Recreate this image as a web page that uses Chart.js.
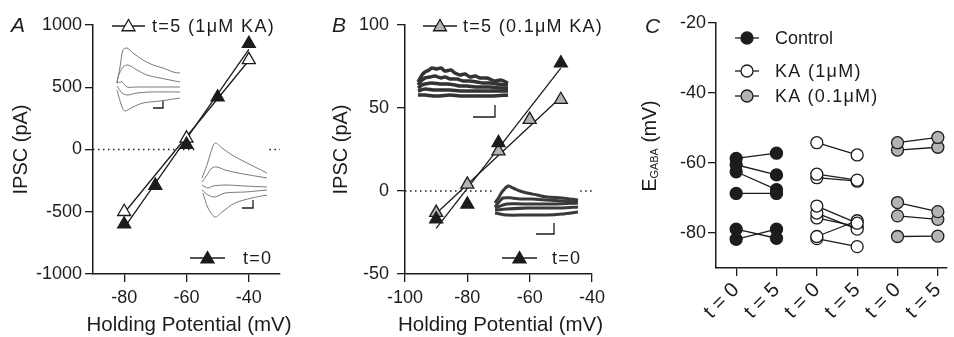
<!DOCTYPE html>
<html><head><meta charset="utf-8">
<script src="https://cdn.jsdelivr.net/npm/chart.js@4.4.1/dist/chart.umd.min.js"></script>
<style>
html,body{margin:0;padding:0;background:#fff;}
#wrap{position:relative;width:954px;height:337px;overflow:hidden;background:#fff;}
canvas{position:absolute;}
</style></head><body>
<div id="wrap">
<canvas id="cA" width="320" height="337" style="left:0;top:0"></canvas>
<canvas id="cB" width="320" height="337" style="left:320px;top:0"></canvas>
<canvas id="cC" width="314" height="337" style="left:640px;top:0"></canvas>
<canvas id="iA1" width="72" height="70" style="left:112px;top:44px"></canvas>
<canvas id="iA2" width="72" height="82" style="left:198px;top:138px"></canvas>
<canvas id="iB1" width="96" height="58" style="left:415px;top:62px"></canvas>
<canvas id="iB2" width="90" height="58" style="left:492px;top:180px"></canvas>
</div>
<script>
// ---------------- DATA ----------------
// Panel A: IPSC (pA) vs holding potential (mV), 1 µM KA
const vA_t0 = [-80, -70, -60, -50, -40];
const ipscA_t0 = [-600, -290, 40, 420, 850];
const vA_t5 = [-80, -60, -40];
const ipscA_t5 = [-500, 90, 720];
const fitA_v = [-80, -40];
const fitA_t0 = [-630, 805];
const fitA_t5 = [-510, 715];
const ticksA_x = [-80, -60, -40];
const ticksA_y = [-1000, -500, 0, 500, 1000];

// Panel B: 0.1 µM KA
const vB_t0 = [-90, -80, -70, -50];
const ipscB_t0 = [-17, -8, 29, 77];
const vB_t5 = [-90, -80, -70, -60, -50];
const ipscB_t5 = [-13, 4, 24, 43, 55];
const fitB_v = [-90, -50];
const fitB_t0 = [-22.5, 74];
const fitB_t5 = [-13.5, 56.5];
const ticksB_x = [-100, -80, -60, -40];
const ticksB_y = [-50, 0, 50, 100];

// Panel C: E_GABA (mV) per cell, t=0 vs t=5
const groupsC = ['Control', 'KA (1\u03BCM)', 'KA (0.1\u03BCM)'];
const labelsC = ['t = 0', 't = 5', 't = 0', 't = 5', 't = 0', 't = 5'];
const ctrl_t0 = [-58.7, -60.5, -62.5, -68.7, -78.9, -81.8];
const ctrl_t5 = [-57.2, -63.4, -67.6, -68.7, -81.5, -78.9];
const ka1_t0 = [-54.2, -63.2, -64.2, -72.3, -74.3, -75.7, -81.0, -81.6];
const ka1_t5 = [-57.7, -64.9, -65.2, -77.2, -78.9, -78.2, -76.5, -83.9];
const ka01_t0 = [-54.2, -56.3, -71.3, -75.1, -81.0];
const ka01_t5 = [-52.7, -55.5, -73.9, -76.1, -80.9];
const ticksC_y = [-80, -60, -40, -20];

// Inset traces (time, current in arbitrary units)
const tracesA1 = [
  [[5,31],[8,47],[11,64],[15,66],[21,61],[31,54],[41,49],[51,46],[61,42],[68,41]],
  [[5,31],[6,37],[11,47],[16,49],[25,44],[35,39],[48,36],[68,32]],
  [[5,31],[10,32],[15,27],[25,27],[48,27],[68,27]],
  [[5,28],[10,21],[15,19],[25,21],[38,22],[68,22]],
  [[5,24],[10,7],[13,3],[21,7],[31,11],[48,13],[68,16]]
];
const barA1 = [[41,6],[51,6],[51,14]];
const tracesA2 = [
  [[4,42],[9,55],[12,65],[17,77],[24,72],[34,65],[47,58],[69,47]],
  [[4,38],[9,45],[14,52],[19,53],[27,50],[40,47],[69,42]],
  [[4,35],[10,32],[15,34],[27,35],[47,34],[69,33]],
  [[4,30],[10,25],[17,23],[27,27],[47,28],[69,30]],
  [[5,27],[10,12],[17,3],[24,8],[37,17],[54,22],[69,25]]
];
const barA2 = [[44,12],[55,12],[55,20]];
const tracesB1 = [
  [[3,38],[7,45],[10,48],[14,50],[17,52],[22,51],[26,52],[30,49],[36,50],[40,47],[45,45],[50,46],[55,43],[60,44],[65,42],[72,42],[80,39],[86,40],[93,37]],
  [[3,35],[7,40],[10,42],[15,43],[20,44],[26,42],[30,43],[35,41],[42,41],[48,39],[55,39],[62,38],[68,37],[75,37],[82,36],[93,35]],
  [[3,32],[7,35],[10,36],[17,37],[25,36],[32,36],[40,35],[45,34],[52,34],[60,33],[65,33],[75,33],[85,32],[93,32]],
  [[3,29],[10,31],[18,30],[25,30],[35,30],[45,29],[55,29],[65,29],[78,29],[93,29]],
  [[3,25],[10,25],[18,24],[25,24],[35,25],[45,24],[55,24],[65,24],[78,24],[93,25]]
];
const barB1 = [[58,3],[80,3],[80,15]];
const tracesB2 = [
  [[3,35],[7,41],[10,46],[16,52],[21,50],[28,47],[35,45],[45,43],[55,41],[70,40],[86,38]],
  [[3,31],[7,36],[11,40],[20,40],[28,39],[40,39],[55,38],[70,37],[86,36]],
  [[3,30],[15,34],[30,34],[45,34],[65,34],[86,35]],
  [[3,28],[15,29],[35,30],[55,30],[70,30],[86,31]],
  [[3,25],[15,23],[35,23],[55,23],[70,24],[86,26]]
];
const barB2 = [[44,4],[62,4],[62,15]];

// ---------------- RENDERING ----------------
const INK = '#1c1c1c';
const GREY = '#b3b3b3';
const FONT = '"Liberation Sans", Arial, Helvetica, sans-serif';
Chart.defaults.font.family = FONT;
Chart.defaults.color = INK;

const pts = (xs, ys) => xs.map((x, i) => ({x, y: ys[i]}));

const overlayItems = {};
const overlay = {
  id: 'overlay',
  afterDraw(chart) {
    const items = overlayItems[chart.canvas.id] || [];
    const ctx = chart.ctx;
    items.forEach(it => {
      ctx.save();
      if (it.type === 'leg') {
        ctx.strokeStyle = INK; ctx.lineWidth = 1.3;
        ctx.beginPath(); ctx.moveTo(it.x0, it.y); ctx.lineTo(it.x1, it.y); ctx.stroke();
        ctx.fillStyle = it.fill; ctx.strokeStyle = INK;
        Chart.helpers.drawPoint(ctx, {pointStyle: it.style, radius: it.r, borderWidth: 1.3, rotation: 0}, (it.x0 + it.x1) / 2, it.y + (it.dy || 0));
        ctx.fillStyle = INK; ctx.font = '18px ' + FONT; ctx.textBaseline = 'middle'; ctx.textAlign = 'left';
        ctx.letterSpacing = it.ls || '0px';
        ctx.fillText(it.text, it.tx, it.y + 1);
      } else if (it.type === 'letter') {
        ctx.fillStyle = INK; ctx.font = 'italic 21px ' + FONT; ctx.textBaseline = 'alphabetic';
        ctx.fillText(it.text, it.x, it.y);
      } else if (it.type === 'xtitle') {
        ctx.fillStyle = INK; ctx.font = '20.5px ' + FONT; ctx.textBaseline = 'middle'; ctx.textAlign = 'center';
        ctx.fillText(it.text, it.x, it.y);
      } else if (it.type === 'ytitle') {
        ctx.translate(it.x, it.y); ctx.rotate(-Math.PI / 2);
        ctx.fillStyle = INK; ctx.textBaseline = 'middle'; ctx.textAlign = 'left';
        const big = '19.5px ' + FONT, small = '11px ' + FONT;
        ctx.font = big; const w1 = ctx.measureText('E').width;
        ctx.font = small; const w2 = ctx.measureText('GABA').width;
        ctx.font = big; const w3 = ctx.measureText(' (mV)').width;
        let x = -(w1 + w2 + w3) / 2;
        ctx.font = big; ctx.fillText('E', x, 0); x += w1;
        ctx.font = small; ctx.fillText('GABA', x, 4); x += w2;
        ctx.font = big; ctx.fillText(' (mV)', x, 0);
      }
      ctx.restore();
    });
  }
};

function scaleX(p) {
  return {
    type: 'linear', min: p.xMin, max: p.xMax,
    afterBuildTicks: s => { s.ticks = p.xTicks.map(v => ({value: v})); },
    afterFit: s => { s.height = p.B; s.paddingLeft = 0; s.paddingRight = 0; },
    grid: {display: true, drawOnChartArea: false, drawTicks: true, tickLength: 8, color: INK, lineWidth: 1.3},
    border: {display: true, color: INK, width: 1.5},
    ticks: {color: INK, font: {size: p.xFont || 18}, padding: p.xPad || 5, autoSkip: false,
            maxRotation: p.xRot || 0, minRotation: p.xRot || 0,
            callback: p.xLabel || (v => String(v))},
    title: {display: false}
  };
}
function scaleY(p) {
  return {
    type: 'linear', min: p.yMin, max: p.yMax,
    afterBuildTicks: s => { s.ticks = p.yTicks.map(v => ({value: v})); },
    afterFit: s => { s.width = p.L; s.paddingTop = 0; s.paddingBottom = 0; },
    grid: {display: true, drawOnChartArea: false, drawTicks: true, tickLength: 8, color: INK, lineWidth: 1.3},
    border: {display: true, color: INK, width: 1.5},
    ticks: {color: INK, font: {size: 18}, padding: p.yPad, callback: v => String(v)},
    title: {display: !!p.yTitle, text: p.yTitle || '', color: INK, font: {size: 20}, padding: {top: 9.5, bottom: 0}}
  };
}
function baseOptions(p) {
  return {
    responsive: false, animation: false, devicePixelRatio: 1,
    layout: {padding: {left: 0, top: p.T, right: p.R, bottom: 0}},
    plugins: {legend: {display: false}, tooltip: {enabled: false}},
    scales: {x: scaleX(p), y: scaleY(p)}
  };
}
function markerSet(data, style, fill, r) {
  return {data, showLine: false, pointStyle: style, pointRadius: r, pointBackgroundColor: fill,
          pointBorderColor: INK, pointBorderWidth: 1.3, clip: false};
}
function lineSet(data, dash, w) {
  return {data, showLine: true, pointRadius: 0, borderColor: INK, borderWidth: w || 1.3,
          borderDash: dash || [], spanGaps: false, clip: false, tension: 0};
}

const xTitle = 'Holding Potential (mV)';

// Panel A
overlayItems.cA = [
  {type: 'letter', text: 'A', x: 11, y: 32},
  {type: 'xtitle', text: xTitle, x: 189, y: 325},
  {type: 'leg', x0: 112, x1: 145, y: 26, dy: 1, style: 'triangle', r: 7.5, fill: '#fff', text: 't=5 (1\u03BCM KA)', tx: 152, ls: '1.35px'},
  {type: 'leg', x0: 190, x1: 225, y: 258, dy: 1, style: 'triangle', r: 7.5, fill: INK, text: 't=0', tx: 243, ls: '1.2px'}
];
new Chart(document.getElementById('cA'), {
  type: 'line',
  data: {datasets: [
    markerSet(pts(vA_t0, ipscA_t0), 'triangle', INK, 7.5),
    markerSet(pts(vA_t5, ipscA_t5), 'triangle', '#fff', 7.5),
    lineSet(pts(fitA_v, fitA_t0)),
    lineSet(pts(fitA_v, fitA_t5)),
    lineSet([{x: -90, y: 0}, {x: -57.5, y: 0}, {x: -57.4, y: null}, {x: -33.4, y: 0}, {x: -30, y: 0}], [1.5, 3.5], 1.3)
  ]},
  options: baseOptions({T: 25, R: 40, L: 93, B: 63, xMin: -90, xMax: -30, xTicks: ticksA_x,
    yMin: -1000, yMax: 1000, yTicks: ticksA_y, yPad: 3, yTitle: 'IPSC (pA)'}),
  plugins: [overlay]
});

// Panel B
overlayItems.cB = [
  {type: 'letter', text: 'B', x: 12, y: 32},
  {type: 'xtitle', text: xTitle, x: 180.5, y: 325},
  {type: 'leg', x0: 103, x1: 137, y: 26, dy: 1, style: 'triangle', r: 7.5, fill: GREY, text: 't=5 (0.1\u03BCM KA)', tx: 143, ls: '1.3px'},
  {type: 'leg', x0: 182, x1: 217, y: 258, dy: 1, style: 'triangle', r: 7.5, fill: INK, text: 't=0', tx: 232, ls: '1.2px'}
];
new Chart(document.getElementById('cB'), {
  type: 'line',
  data: {datasets: [
    markerSet(pts(vB_t0, ipscB_t0), 'triangle', INK, 7.5),
    markerSet(pts(vB_t5, ipscB_t5), 'triangle', GREY, 7.5),
    lineSet(pts(fitB_v, fitB_t0)),
    lineSet(pts(fitB_v, fitB_t5)),
    lineSet([{x: -100, y: 0}, {x: -72, y: 0}, {x: -71.9, y: null}, {x: -43.8, y: 0}, {x: -40, y: 0}], [1.5, 3.5], 1.3)
  ]},
  options: baseOptions({T: 25, R: 48, L: 85, B: 63, xMin: -100, xMax: -40, xTicks: ticksB_x,
    yMin: -50, yMax: 100, yTicks: ticksB_y, yPad: 8, yTitle: 'IPSC (pA)'}),
  plugins: [overlay]
});

// Panel C
function pairSets(t0, t5, xa, fill) {
  return t0.map((v, i) => ({
    data: [{x: xa, y: v}, {x: xa + 1, y: t5[i]}], showLine: true, borderColor: INK, borderWidth: 1.3,
    pointStyle: 'circle', pointRadius: 6, pointBackgroundColor: fill, pointBorderColor: INK, pointBorderWidth: 1.3, clip: false
  }));
}
overlayItems.cC = [
  {type: 'letter', text: 'C', x: 5, y: 33},
  {type: 'ytitle', x: 11, y: 146},
  {type: 'leg', x0: 95, x1: 119, y: 38, style: 'circle', r: 6, fill: INK, text: groupsC[0], tx: 135},
  {type: 'leg', x0: 95, x1: 119, y: 71, style: 'circle', r: 6, fill: '#fff', text: groupsC[1], tx: 135, ls: '1.3px'},
  {type: 'leg', x0: 95, x1: 119, y: 96, style: 'circle', r: 6, fill: GREY, text: groupsC[2], tx: 135, ls: '1.2px'}
];
new Chart(document.getElementById('cC'), {
  type: 'line',
  data: {datasets: [
    ...pairSets(ctrl_t0, ctrl_t5, 1, INK),
    ...pairSets(ka1_t0, ka1_t5, 3, '#fff'),
    ...pairSets(ka01_t0, ka01_t5, 5, GREY)
  ]},
  options: baseOptions({T: 23, R: 0, L: 76, B: 69, xMin: 0.5, xMax: 6.22, xTicks: [1, 2, 3, 4, 5, 6],
    xLabel: v => labelsC[Math.round(v) - 1], xRot: 45, xPad: 2, xFont: 20.5,
    yMin: -90, yMax: -20, yTicks: ticksC_y, yPad: 2}),
  plugins: [overlay]
});

// Insets (sample current traces with scale bars)
function inset(id, traces, bar, color, width) {
  const c = document.getElementById(id);
  const ds = traces.map(t => ({data: t.map(([x, y]) => ({x, y})), showLine: true, pointRadius: 0,
    borderColor: color, borderWidth: width, tension: 0.3, clip: false}));
  ds.push({data: bar.map(([x, y]) => ({x, y})), showLine: true, pointRadius: 0, borderColor: INK,
    borderWidth: 1.3, tension: 0, clip: false});
  new Chart(c, {
    type: 'line', data: {datasets: ds},
    options: {responsive: false, animation: false, devicePixelRatio: 1,
      layout: {padding: 0},
      plugins: {legend: {display: false}, tooltip: {enabled: false}},
      scales: {x: {type: 'linear', display: false, min: 0, max: c.width},
               y: {type: 'linear', display: false, min: 0, max: c.height}}}
  });
}
inset('iA1', tracesA1, barA1, '#7a7a7a', 1);
inset('iA2', tracesA2, barA2, '#7a7a7a', 1);
inset('iB1', tracesB1, barB1, '#333333', 3.5);
inset('iB2', tracesB2, barB2, '#3a3a3a', 3);
</script>
</body></html>
